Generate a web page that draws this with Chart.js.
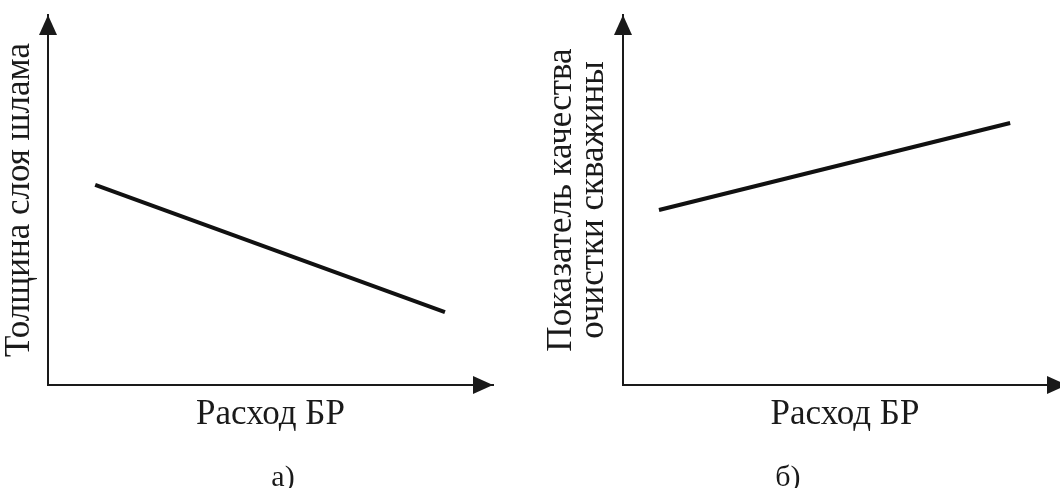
<!DOCTYPE html>
<html>
<head>
<meta charset="utf-8">
<script src="https://cdn.jsdelivr.net/npm/chart.js@4/dist/chart.umd.min.js"></script>
<style>
  html, body { margin: 0; padding: 0; background: #fff; overflow: hidden; width: 1060px; height: 488px; }
  canvas { position: absolute; top: 0; }
  #chartA { left: 0; }
  #chartB { left: 530px; }
  .caption {
    position: absolute; top: 461px; width: 80px; margin-left: -40px;
    text-align: center; font: 30px/30px 'Liberation Serif', 'Times New Roman', serif; color: #1a1a1a;
  }
</style>
</head>
<body>
<canvas id="chartA" width="530" height="488"></canvas>
<canvas id="chartB" width="540" height="488"></canvas>
<div class="caption" id="capA" style="left: 283px;"></div>
<div class="caption" id="capB" style="left: 788px;"></div>
<script>
// values (axes have no scale, 0..10 units)
const xTitle = 'Расход БР';
const yTitleA = 'Толщина слоя шлама';
const yTitleB = ['Показатель качества', 'очистки скважины'];
const captions = ['а)', 'б)'];

const flowA = [1.06, 8.92];
const sludgeA = [5.41, 1.97];

const flowB = [0.81, 8.72];
const qualityB = [4.73, 7.08];

const ink = '#1a1a1a';
const serif = "'Liberation Serif', 'Times New Roman', serif";

document.getElementById('capA').textContent = captions[0];
document.getElementById('capB').textContent = captions[1];

// arrowheads at the ends of both axes
const axisArrows = {
  id: 'axisArrows',
  afterDraw(chart) {
    const {ctx, chartArea: a} = chart;
    ctx.save();
    ctx.fillStyle = ink;
    ctx.beginPath();
    ctx.moveTo(a.left, a.top);
    ctx.lineTo(a.left - 9, a.top + 20);
    ctx.lineTo(a.left + 9, a.top + 20);
    ctx.closePath();
    ctx.fill();
    ctx.beginPath();
    ctx.moveTo(a.right, a.bottom);
    ctx.lineTo(a.right - 20, a.bottom - 9);
    ctx.lineTo(a.right - 20, a.bottom + 9);
    ctx.closePath();
    ctx.fill();
    ctx.restore();
  }
};

function makeChart(id, xs, ys, yTitle, yTitlePad, yLineHeight, yWidth, padRight) {
  return new Chart(document.getElementById(id), {
    type: 'line',
    data: {
      datasets: [{
        data: xs.map((x, i) => ({x: x, y: ys[i]})),
        borderColor: '#111',
        borderWidth: 4,
        pointRadius: 0,
        fill: false
      }]
    },
    options: {
      responsive: false,
      animation: false,
      layout: { padding: { top: 15, left: 0, right: padRight, bottom: 53 } },
      plugins: {
        legend: { display: false },
        tooltip: { enabled: false }
      },
      scales: {
        x: {
          type: 'linear',
          min: 0, max: 10,
          grid: { display: false },
          border: { display: true, color: ink, width: 2 },
          ticks: { display: false },
          title: {
            display: true, text: xTitle, color: ink,
            font: { family: serif, size: 35, lineHeight: 1.0 },
            padding: { top: 0, bottom: 2.5 }
          },
          afterFit(scale) { scale.height = 50; }
        },
        y: {
          min: 0, max: 10,
          grid: { display: false },
          border: { display: true, color: ink, width: 2 },
          ticks: { display: false },
          title: {
            display: true, text: yTitle, color: ink,
            font: { family: serif, size: 35, lineHeight: yLineHeight },
            padding: { top: yTitlePad, bottom: 0 }
          },
          afterFit(scale) { scale.width = yWidth; }
        }
      }
    },
    plugins: [axisArrows]
  });
}

makeChart('chartA', flowA, sludgeA, yTitleA, 2.5, 1.0, 48, 37);
makeChart('chartB', flowB, qualityB, yTitleB, 16, 0.914, 93, 3);
</script>
</body>
</html>
